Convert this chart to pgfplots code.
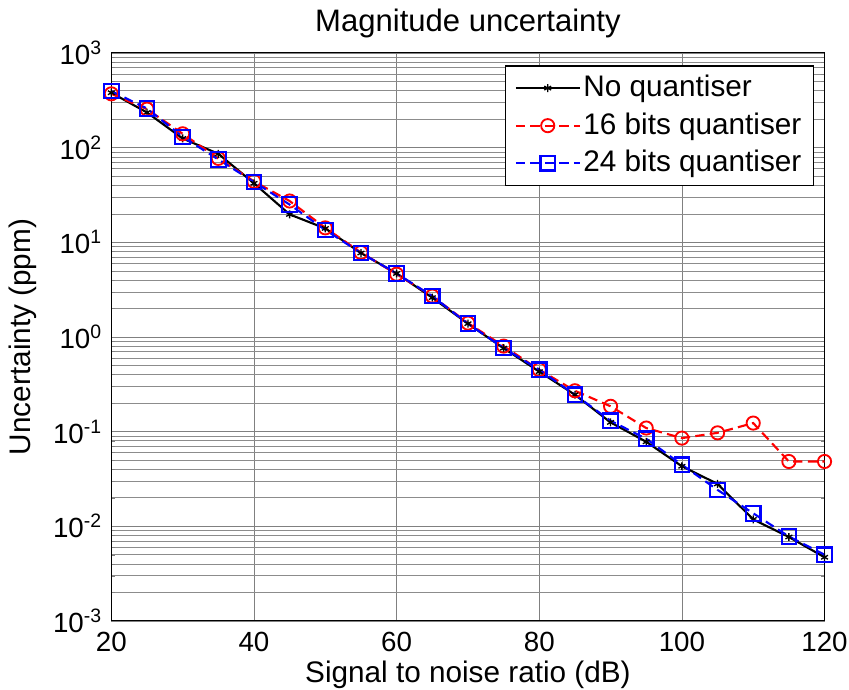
\documentclass[border=0pt]{standalone}
\usepackage{pgfplots}
\pgfplotsset{compat=1.18}
\usepackage{fontspec}
\setmainfont{Liberation Sans}
\begin{document}
\fontsize{21pt}{25pt}\selectfont
\begin{tikzpicture}
\begin{axis}[
  scale only axis,
  width=540pt, height=430pt,
  ymode=log,
  xmin=20, xmax=120, ymin=1e-3, ymax=1e3,
  xtick={20,40,60,80,100,120},
  ytick={1e-3,1e-2,1e-1,1,1e1,1e2,1e3},
  yticklabels={10\textsuperscript{-3},10\textsuperscript{-2},10\textsuperscript{-1},10\textsuperscript{0},10\textsuperscript{1},10\textsuperscript{2},10\textsuperscript{3}},
  /pgf/number format/assume math mode=true,
  ticklabel style={font=\fontsize{21pt}{25pt}\selectfont},
  xticklabel style={yshift=-1pt, inner xsep=1pt},
  grid=both,
  major grid style={black!50, line width=0.5pt},
  minor grid style={black!45, line width=0.4pt},
  tick align=inside,
  axis line style={line width=0.8pt},
  title={Magnitude uncertainty},
  title style={font=\fontsize{23.5pt}{27pt}\selectfont, yshift=-2pt},
  xlabel={Signal to noise ratio (dB)},
  ylabel={Uncertainty (ppm)},
  label style={font=\fontsize{22.5pt}{26pt}\selectfont},
  xlabel style={yshift=1pt, inner ysep=1pt},
  ylabel style={yshift=-2pt},
  legend style={at={(rel axis cs:0.985,0.978)}, anchor=north east, font=\fontsize{22.5pt}{26pt}\selectfont, draw=black, line width=0.8pt, fill=white, inner xsep=7pt, inner ysep=5pt, row sep=5pt},
  legend cell align=left,
  legend image code/.code={\draw[mark repeat=2,mark phase=2,#1] plot coordinates {(0cm,0cm) (0.85cm,0cm) (1.7cm,0cm)};},
]
\addplot[black, line width=1.6pt, mark=asterisk, mark size=3pt, mark options={solid, line width=1pt}] coordinates {
(20,380) (25,235) (30,125) (35,86) (40,42) (45,19.7) (50,14) (55,7.7) (60,4.68) (65,2.6) (70,1.38)
(75,0.76) (80,0.43) (85,0.245) (90,0.125) (95,0.078) (100,0.043) (105,0.028) (110,0.0118) (115,0.0077) (120,0.0047)};
\addlegendentry{No quantiser}
\addplot[red, line width=1.6pt, dash pattern=on 7pt off 4pt, mark=o, mark size=5pt, mark options={solid, line width=1.4pt}] coordinates {
(20,370) (25,255) (30,140) (35,77) (40,44) (45,27.3) (50,14.2) (55,7.8) (60,4.6) (65,2.7) (70,1.4)
(75,0.8) (80,0.45) (85,0.27) (90,0.185) (95,0.109) (100,0.0853) (105,0.097) (110,0.123) (115,0.0483) (120,0.0483)};
\addlegendentry{16 bits quantiser}
\addplot[blue, line width=1.6pt, dash pattern=on 7pt off 4pt, mark=square, mark size=5.5pt, mark options={solid, line width=1.6pt}] coordinates {
(20,395) (25,259) (30,130) (35,75) (40,43.4) (45,25) (50,13.5) (55,7.7) (60,4.68) (65,2.7) (70,1.38)
(75,0.765) (80,0.45) (85,0.245) (90,0.13) (95,0.084) (100,0.0446) (105,0.0242) (110,0.0137) (115,0.0078) (120,0.005)};
\addlegendentry{24 bits quantiser}
\end{axis}
\end{tikzpicture}
\end{document}
